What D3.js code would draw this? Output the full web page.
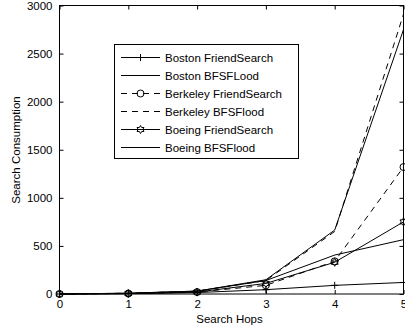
<!DOCTYPE html>
<html><head><meta charset="utf-8">
<script src="https://cdn.jsdelivr.net/npm/d3@7"></script>
<style>body{margin:0;background:#fff}svg{display:block}text{font-family:"Liberation Sans",Arial,sans-serif;fill:#000}</style>
</head><body><svg id="c" width="405" height="328"></svg>
<script>
const hops = [0,1,2,3,4,5];
const bostonFriend = [0,3,15,45,90,120];
const bostonFlood = [0,8,30,140,405,565];
const berkeleyFriend = [0,5,20,90,340,1320];
const berkeleyFlood = [0,8,30,140,650,2910];
const boeingFriend = [0,5,20,110,330,750];
const boeingFlood = [0,8,30,148,665,2750];
const xTicks = [0,1,2,3,4,5];
const yTicks = [0,500,1000,1500,2000,2500,3000];
const seriesNames = ["Boston FriendSearch","Boston BFSFLood","Berkeley FriendSearch","Berkeley BFSFlood","Boeing FriendSearch","Boeing BFSFlood"];

const series = [
  {name:seriesNames[0], values:bostonFriend, dash:null, marker:"plus"},
  {name:seriesNames[1], values:bostonFlood, dash:null, marker:null},
  {name:seriesNames[2], values:berkeleyFriend, dash:"6,5", marker:"circle"},
  {name:seriesNames[3], values:berkeleyFlood, dash:"6,5", marker:null},
  {name:seriesNames[4], values:boeingFriend, dash:null, marker:"star"},
  {name:seriesNames[5], values:boeingFlood, dash:null, marker:null}
];

const svg = d3.select("#c");
const L=59.5, R=403.5, T=5.5, B=294;
const x = d3.scaleLinear().domain([0,5]).range([L,R]);
const y = d3.scaleLinear().domain([0,3000]).range([B,T]);
const fs = "11.5px";

// frame
svg.append("rect").attr("x",L).attr("y",T).attr("width",R-L).attr("height",B-T)
  .attr("fill","none").attr("stroke","#000").attr("stroke-width",1);

// axes
const xa = svg.append("g").attr("transform",`translate(0,${B})`)
  .call(d3.axisBottom(x).tickValues(xTicks).tickSizeInner(-4).tickSizeOuter(0).tickPadding(8).tickFormat(d3.format("d")));
const ya = svg.append("g").attr("transform",`translate(${L},0)`)
  .call(d3.axisLeft(y).tickValues(yTicks).tickSizeInner(-4).tickSizeOuter(0).tickPadding(7).tickFormat(d3.format("d")));
const xt = svg.append("g").attr("transform",`translate(0,${T})`)
  .call(d3.axisTop(x).tickValues(xTicks).tickSizeInner(-4).tickSizeOuter(0).tickFormat(""));
const yr = svg.append("g").attr("transform",`translate(${R},0)`)
  .call(d3.axisRight(y).tickValues(yTicks).tickSizeInner(-4).tickSizeOuter(0).tickFormat(""));
[xa,ya,xt,yr].forEach(g=>{g.select(".domain").remove();g.selectAll("line").attr("stroke","#000");
  g.selectAll("text").style("font-size",fs).style("font-family","Liberation Sans, Arial, sans-serif").attr("fill","#000");});
xa.selectAll("text").attr("dy","0.55em");

// axis titles
svg.append("text").attr("x",(L+R)/2-2).attr("y",323).attr("text-anchor","middle").style("font-size",fs).text("Search Hops");
svg.append("text").attr("transform",`translate(20,${150}) rotate(-90)`).attr("text-anchor","middle").style("font-size",fs).text("Search Consumption");

// lines
const line = d3.line().x((d,i)=>x(hops[i])).y(d=>y(d));
const plot = svg.append("g");
function drawMarker(g, type, cx, cy){
  if(type==="plus"){
    g.append("path").attr("d",`M${cx-3.5},${cy}H${cx+3.5}M${cx},${cy-3.5}V${cy+3.5}`).attr("stroke","#000").attr("fill","none");
  } else if(type==="circle"){
    g.append("circle").attr("cx",cx).attr("cy",cy).attr("r",3.5).attr("fill","none").attr("stroke","#000");
  } else if(type==="star"){
    const pts=[];
    for(let k=0;k<12;k++){const a=Math.PI/2+k*Math.PI/6;const r=k%2===0?4:2.3;pts.push([cx+r*Math.cos(a),cy-r*Math.sin(a)]);}
    g.append("path").attr("d","M"+pts.map(p=>p.join(",")).join("L")+"Z").attr("fill","none").attr("stroke","#000");
  }
}
series.forEach(s=>{
  plot.append("path").datum(s.values).attr("d",line).attr("fill","none").attr("stroke","#000")
    .attr("stroke-width",1).attr("stroke-dasharray",s.dash);
  if(s.marker) s.values.forEach((v,i)=>drawMarker(plot,s.marker,x(hops[i]),y(v)));
});

// legend
const lg = svg.append("g");
const lx=114.5, ly=44.5, lw=184, lh=114;
lg.append("rect").attr("x",lx).attr("y",ly).attr("width",lw).attr("height",lh).attr("fill","#fff").attr("stroke","#000");
series.forEach((s,i)=>{
  const yy = 57.5 + i*18;
  lg.append("line").attr("x1",121).attr("x2",160).attr("y1",yy).attr("y2",yy).attr("stroke","#000").attr("stroke-dasharray",s.dash);
  if(s.marker) drawMarker(lg,s.marker,140.5,yy);
  lg.append("text").attr("x",165).attr("y",yy).attr("dy","0.35em").style("font-size",fs).text(s.name);
});
</script></body></html>
